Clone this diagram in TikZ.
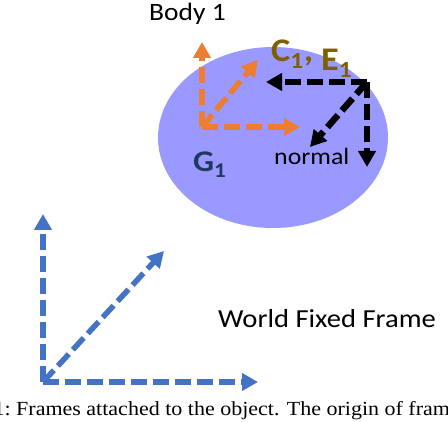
\documentclass[tikz,border=0pt]{standalone}
\usepackage{fontspec}
\usepackage{graphicx}
\setmainfont{Liberation Serif}
\newfontfamily\calib{Carlito}
\usetikzlibrary{arrows.meta,shapes.geometric}
\definecolor{wblue}{HTML}{4472C4}
\definecolor{borange}{HTML}{ED7D31}
\definecolor{bodyfill}{HTML}{9999FF}
\definecolor{cecol}{HTML}{7F6000}
\definecolor{gcol}{HTML}{1F3864}
\newcommand\widetxt[1]{\scalebox{1.1}[1]{#1}}
\tikzset{
  frame/.style={line width=5.5pt, dash pattern=on 16pt off 6pt, -{Triangle[length=16pt,width=17pt]}},
  wframe/.style={frame, draw=wblue},
  oframe/.style={frame, draw=borange},
  kframe/.style={frame, draw=black, line width=6.5pt},
  lbl/.style={inner sep=0pt, anchor=base west},
}
\begin{document}
\begin{tikzpicture}[x=1pt,y=-1pt]
\useasboundingbox (0,0) rectangle (448,422);
\clip (0,0) rectangle (448,422);
% body
\node[draw=none, fill=bodyfill, ellipse, minimum width=230pt, minimum height=181pt, inner sep=0pt] (body) at (273,137.5) {};
\node[lbl, font=\calib\fontsize{25}{28}\selectfont] (bodylbl) at (149,21) {\widetxt{Body 1}};
% orange frame at G1
\coordinate (go) at (202,127);
\coordinate (gx) at (300,127);
\coordinate (gy) at (202,42);
\coordinate (gz) at (258,60);
\draw[oframe] (go) -- (gx);
\draw[oframe] (go) -- (gy);
\draw[oframe] (go) -- (gz);
% black frame at C1,E1
\coordinate (co) at (367,82);
\coordinate (cx) at (266,82);
\coordinate (cy) at (367,167);
\coordinate (cz) at (310,147);
\draw[kframe] (co) -- (cx);
\draw[kframe] (co) -- (cy);
\draw[kframe] (co) -- (cz);
% world frame
\coordinate (wo) at (43,382);
\coordinate (wx) at (258,382);
\coordinate (wy) at (43,214);
\coordinate (wz) at (164,251);
\draw[wframe] (wo) -- (wx);
\draw[wframe] (wo) -- (wy);
\draw[wframe] (wo) -- (wz);
% labels
\node[lbl, text=cecol, font=\calib\bfseries\fontsize{33}{36}\selectfont] (clbl) at (271,62) {\widetxt{C\textsubscript{1},}};
\node[lbl, text=cecol, font=\calib\bfseries\fontsize{33}{36}\selectfont] (elbl) at (321,71) {\widetxt{E\textsubscript{1}}};
\node[lbl, text=gcol, font=\calib\bfseries\fontsize{30}{32}\selectfont] (glbl) at (193,172) {\widetxt{G\textsubscript{1}}};
\node[lbl, font=\calib\fontsize{23.5}{28}\selectfont] (nlbl) at (274,165) {\widetxt{normal}};
\node[lbl, font=\calib\fontsize{26}{28}\selectfont] (wlbl) at (218,328) {\widetxt{World Fixed Frame}};
% caption
\node[lbl, font=\fontsize{20}{24}\selectfont] (cap) at (16,416) {\widetxt{Frames attached to the object. The origin of frames}};
\node[inner sep=0pt, anchor=base east, font=\fontsize{20}{24}\selectfont] (capnum) at ([xshift=-5pt]cap.base west) {\widetxt{1:}};
\end{tikzpicture}
\end{document}
